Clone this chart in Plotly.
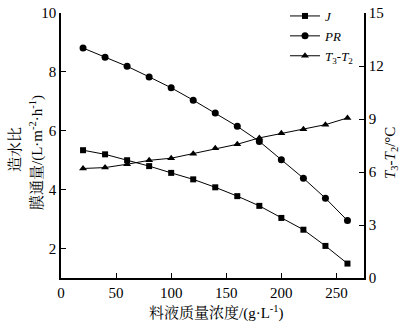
import plotly.graph_objects as go

conc = [20, 40, 60, 80, 100, 120, 140, 160, 180, 200, 220, 240, 260]
flux_J = [5.34, 5.20, 5.00, 4.80, 4.57, 4.35, 4.08, 3.78, 3.45, 3.04, 2.64, 2.09, 1.49]
ratio_PR = [8.81, 8.50, 8.19, 7.83, 7.46, 7.04, 6.60, 6.15, 5.64, 5.02, 4.39, 3.71, 2.95]
dT = [6.20, 6.25, 6.44, 6.66, 6.78, 7.04, 7.34, 7.57, 7.93, 8.19, 8.42, 8.68, 9.06]

x_ticks = [0, 50, 100, 150, 200, 250]
yl_ticks = [2, 4, 6, 8, 10]
yr_ticks = [0, 3, 6, 9, 12, 15]

FONT = "Liberation Serif, Times New Roman, Noto Serif CJK SC, Noto Sans CJK SC, serif"
line = dict(color="black", width=1)

fig = go.Figure()
fig.add_trace(go.Scatter(x=conc, y=flux_J, mode="lines+markers", name="<i>J</i>",
                         line=line, marker=dict(symbol="square", size=6, color="black")))
fig.add_trace(go.Scatter(x=conc, y=ratio_PR, mode="lines+markers", name="<i>PR</i>",
                         line=line, marker=dict(symbol="circle", size=7, color="black")))
fig.add_trace(go.Scatter(x=conc, y=dT, mode="lines+markers", name="<i>T</i><sub>3</sub>-<i>T</i><sub>2</sub>",
                         yaxis="y2", line=line,
                         marker=dict(symbol="triangle-up", size=7, color="black")))

W, H = 400, 323
L, R, T, B = 61, 36, 13, 45

def px_x(p):
    return (p - L) / (W - L - R)

def px_y(p):
    return (H - B - p) / (H - T - B)

annotations = [
    dict(text="造水比", x=px_x(15), y=px_y(150), xref="paper", yref="paper",
         textangle=-90, showarrow=False, xanchor="center", yanchor="middle",
         font=dict(size=15)),
    dict(text="膜通量/(L·m<sup>-2</sup>·h<sup>-1</sup>)", x=px_x(36), y=px_y(153),
         xref="paper", yref="paper", textangle=-90, showarrow=False,
         xanchor="center", yanchor="middle", font=dict(size=15)),
    dict(text="<i>T</i><sub>3</sub>-<i>T</i><sub>2</sub>/°C", x=px_x(391), y=px_y(153),
         xref="paper", yref="paper", textangle=-90, showarrow=False,
         xanchor="center", yanchor="middle", font=dict(size=15)),
    dict(text="料液质量浓度/(g·L<sup>-1</sup>)", x=px_x(216), y=px_y(312),
         xref="paper", yref="paper", showarrow=False,
         xanchor="center", yanchor="middle", font=dict(size=15)),
]

fig.update_layout(
    width=W, height=H,
    margin=dict(l=L, r=R, t=T, b=B, autoexpand=False),
    paper_bgcolor="white", plot_bgcolor="white",
    font=dict(family=FONT, size=15, color="black"),
    showlegend=True,
    annotations=annotations,
    legend=dict(x=px_x(285), y=px_y(1), xanchor="left", yanchor="top",
                bgcolor="rgba(0,0,0,0)", font=dict(size=13, family=FONT),
                tracegroupgap=0, itemwidth=30),
    xaxis=dict(range=[0, 275], tickvals=x_ticks, ticks="inside", ticklen=5,
               showline=True, linecolor="black", linewidth=1.5, showgrid=False,
               zeroline=False, tickcolor="black", tickfont=dict(size=15)),
    yaxis=dict(range=[1, 10], tickvals=yl_ticks, ticks="inside", ticklen=5,
               showline=True, linecolor="black", linewidth=1.5, showgrid=False,
               zeroline=False, tickcolor="black", tickfont=dict(size=15)),
    yaxis2=dict(range=[0, 15], tickvals=yr_ticks, ticks="inside", ticklen=5,
                overlaying="y", side="right", anchor="x",
                showline=True, linecolor="black", linewidth=1.5, showgrid=False,
                zeroline=False, tickcolor="black", tickfont=dict(size=15)),
)

fig.write_html("out.html")
